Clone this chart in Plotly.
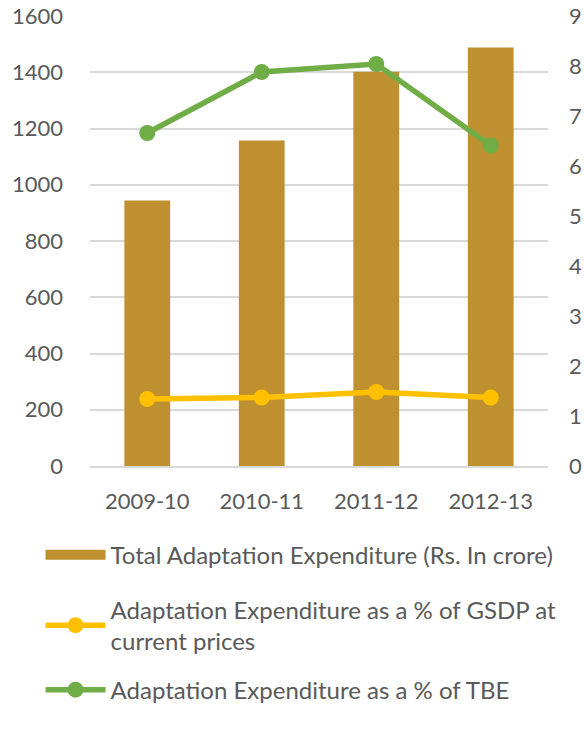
import plotly.graph_objects as go

years = ["2009-10", "2010-11", "2011-12", "2012-13"]
total_exp = [944, 1157, 1402, 1488]
pct_gsdp = [1.34, 1.37, 1.48, 1.37]
pct_tbe = [6.66, 7.88, 8.04, 6.41]

bar_name = "Total Adaptation Expenditure (Rs. In crore)"
gsdp_name = "Adaptation Expenditure as a % of GSDP at<br>current prices"
tbe_name = "Adaptation Expenditure as a % of TBE"

FONT = "Lato"
TXT = "#595959"
BAR_C = "#BE9030"
TICK = 22
LEG = dict(family=FONT, size=24, color=TXT)

fig = go.Figure()
fig.add_trace(go.Bar(x=years, y=total_exp, name=bar_name,
                     marker=dict(color=BAR_C, line=dict(width=0)),
                     showlegend=False))
# legend swatch for the bar series (wide rectangle like the original)
fig.add_trace(go.Scatter(x=[None], y=[None], name=bar_name, mode="lines",
                         line=dict(color=BAR_C, width=13), legend="legend"))
fig.add_trace(go.Scatter(x=years, y=pct_gsdp, name=gsdp_name, yaxis="y2",
                         mode="lines+markers",
                         line=dict(color="#FFC000", width=5.5),
                         marker=dict(size=16, color="#FFC000"),
                         legend="legend2"))
fig.add_trace(go.Scatter(x=years, y=pct_tbe, name=tbe_name, yaxis="y2",
                         mode="lines+markers",
                         line=dict(color="#70AD47", width=5.5),
                         marker=dict(size=16, color="#70AD47"),
                         legend="legend3"))

leg_common = dict(orientation="v", x=-0.108, xanchor="left", yanchor="top",
                  font=LEG, itemwidth=60, bgcolor="rgba(0,0,0,0)")

fig.update_layout(
    width=584, height=733,
    margin=dict(l=90, r=36, t=16, b=267),
    paper_bgcolor="white", plot_bgcolor="white",
    font=dict(family=FONT, size=TICK, color=TXT),
    bargap=0.6,
    showlegend=True,
    legend=dict(y=-0.148, **leg_common),
    legend2=dict(y=-0.27, **leg_common),
    legend3=dict(y=-0.448, **leg_common),
    xaxis=dict(type="category", showgrid=False, showline=True, linecolor="#D9D9D9",
               linewidth=1.5, ticks="", automargin=False,
               tickfont=dict(size=TICK, color=TXT), ticklabelstandoff=15),
    yaxis=dict(range=[0, 1600], dtick=200, showgrid=True, gridcolor="#D9D9D9",
               gridwidth=1.5, zeroline=False, showline=False, ticks="",
               automargin=False,
               tickfont=dict(size=TICK, color=TXT), ticklabelstandoff=26),
    yaxis2=dict(range=[0, 9], dtick=1, overlaying="y", side="right",
                showgrid=False, zeroline=False, showline=False, ticks="",
                automargin=False,
                tickfont=dict(size=TICK, color=TXT), ticklabelstandoff=20),
)

fig.write_html("out.html", config={"displayModeBar": False},
               post_script="document.body.style.margin='0';")
